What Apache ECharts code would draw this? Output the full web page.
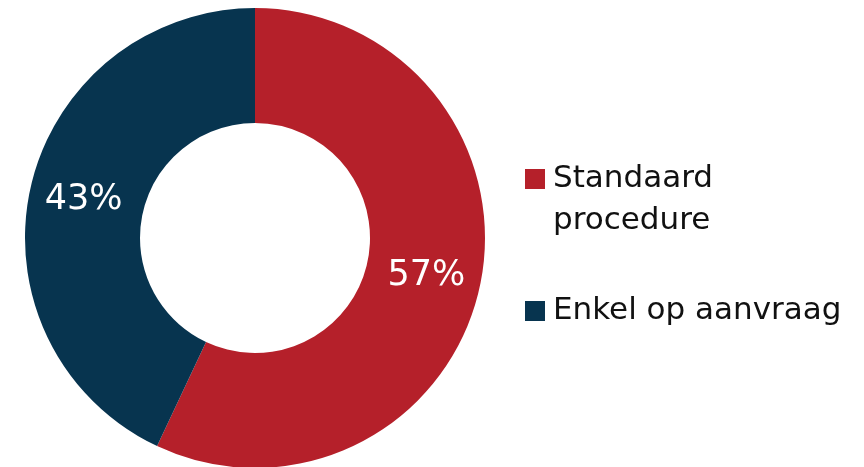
<!DOCTYPE html>
<html>
<head>
<meta charset="utf-8">
<script src="https://cdn.jsdelivr.net/npm/echarts@6/dist/echarts.min.js"></script>
<style>
  html, body { margin: 0; padding: 0; background: #fff; }
  #chart { width: 864px; height: 467px; }
</style>
</head>
<body>
<div id="chart"></div>
<script>
const categories = ['Standaard procedure', 'Enkel op aanvraag']
const legendLabels = ['{s| }\n{t|Standaard}\n{t|procedure}', '{t|Enkel op aanvraag}']
const shares = [57, 43]
const colors = ['#B5202A', '#07344F']

const fontFamily = '"DejaVu Sans", sans-serif'
const legendLine = 42

const chart = echarts.init(document.getElementById('chart'))

// first legend item is two lines; an empty top line keeps its icon beside "Standaard"
const legendText = {
  color: '#111',
  fontFamily,
  fontSize: 31,
  lineHeight: legendLine,
  rich: {
    s: { fontSize: 31, lineHeight: legendLine },
    t: { fontSize: 31, lineHeight: legendLine, padding: [0, 0, 0, 3] },
  },
}

chart.setOption({
  backgroundColor: '#fff',
  animation: false,
  color: colors,
  legend: [
    {
      data: [categories[0]],
      left: 525,
      top: 169 + 10 - legendLine * 1.5,
      padding: 0,
      orient: 'vertical',
      icon: 'rect',
      itemWidth: 20,
      itemHeight: 20,
      formatter: () => legendLabels[0],
      textStyle: legendText,
    },
    {
      data: [categories[1]],
      left: 525,
      top: 301 + 10 - legendLine / 2,
      padding: 0,
      orient: 'vertical',
      icon: 'rect',
      itemWidth: 20,
      itemHeight: 20,
      formatter: () => legendLabels[1],
      textStyle: legendText,
    },
  ],
  series: [
    {
      type: 'pie',
      center: [255, 238],
      radius: [115, 230],
      startAngle: 90,
      clockwise: true,
      silent: true,
      label: {
        position: 'inside',
        formatter: '{c}%',
        color: '#fff',
        fontFamily,
        fontSize: 35,
      },
      labelLine: { show: false },
      data: categories.map((name, i) => ({ name, value: shares[i] })),
    },
  ],
})
</script>
</body>
</html>
